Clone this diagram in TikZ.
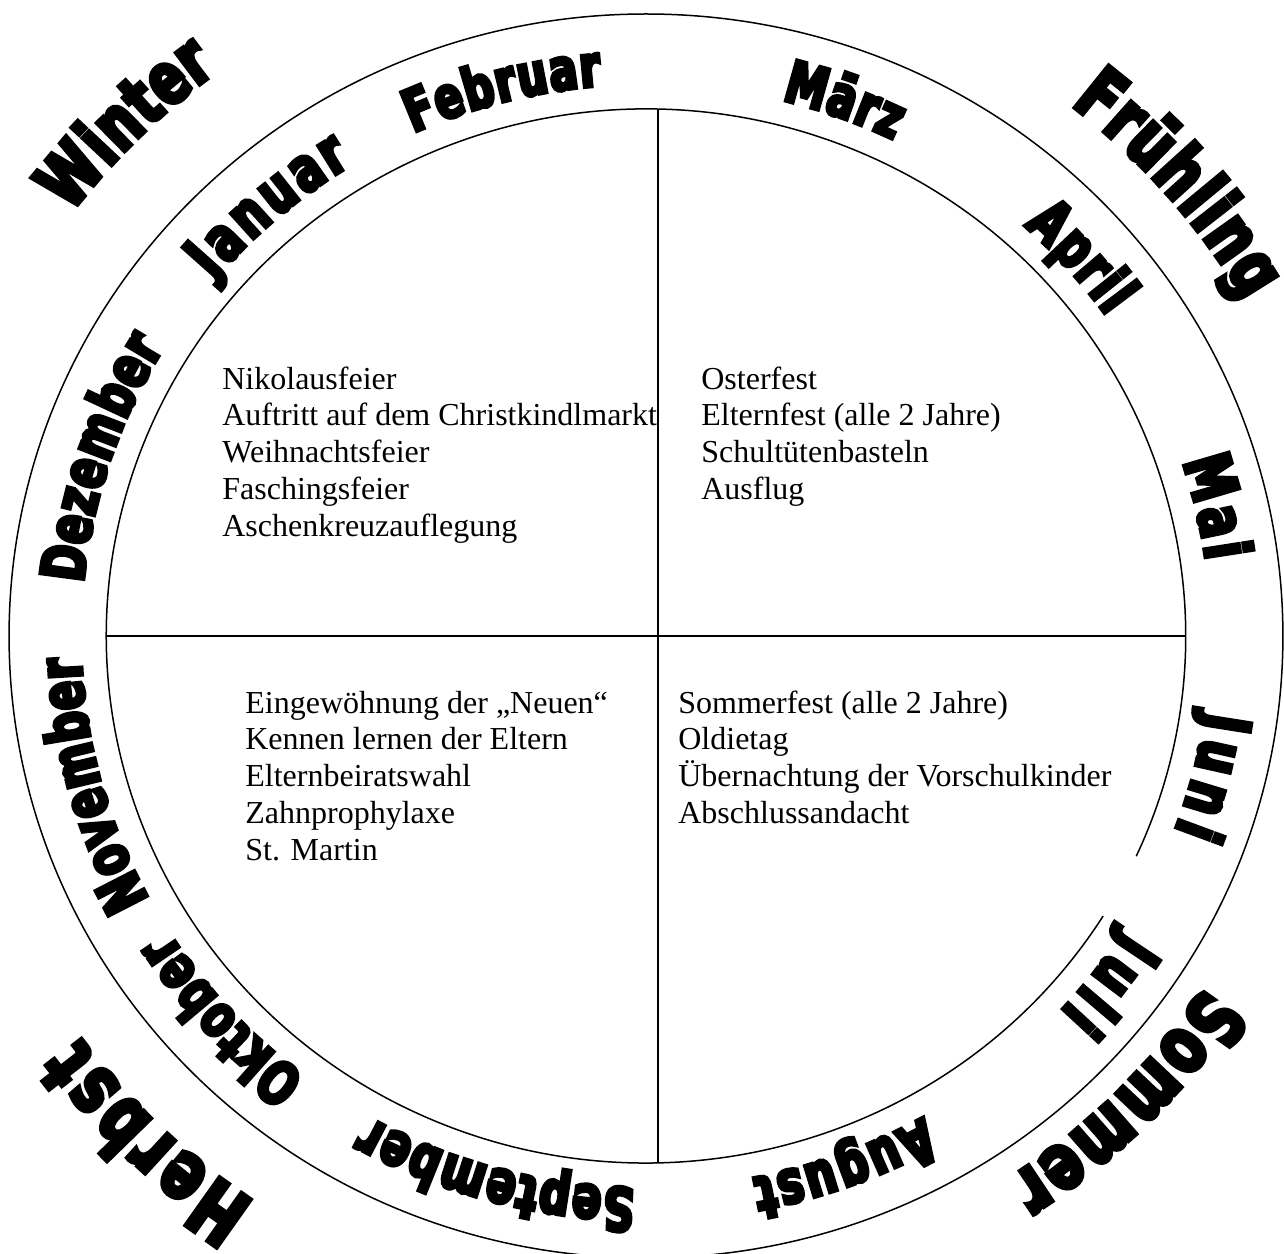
\documentclass[tikz,border=0pt]{standalone}
\usepackage{fontspec}
\setmainfont{Liberation Serif}
\newfontfamily\heavy{DejaVu Sans}[FakeBold=6, FakeStretch=0.72]
\usetikzlibrary{decorations.text}
\tikzset{
  ring/.style={line width=0.75pt},
  divider/.style={line width=0.7pt},
  evt/.style={anchor=base west, inner sep=0pt, font=\fontsize{16pt}{18.4pt}\selectfont},
}
% #1 start angle, #2 end angle, #3 baseline radius, #4 font size, #5 text
\newcommand\ringlabel[5]{%
  \path[decorate, decoration={text along path, text align=fit to path,
     text={|\heavy\bfseries\fontsize{#4}{#4}\selectfont|#5}}]
     (#1:#3) arc[start angle=#1, end angle=#2, radius=#3];}
\begin{document}
\begin{tikzpicture}[x=0.512pt,y=0.5pt]
\useasboundingbox (-630.86,-617) rectangle (623.05,636);
\fill[white] (-630.86,-617) rectangle (623.05,636);
% circles
\draw[ring] (0,0) circle[x radius=622, y radius=622];
\draw[ring] (-24.7:527) arc[start angle=-24.7, end angle=327.9, radius=527];
% dividers
\coordinate (hL) at (-527,0);
\coordinate (hR) at (527,0);
\coordinate (vT) at (11.7,526.9);
\coordinate (vB) at (11.7,-526.9);
\draw[divider] (hL) -- (hR);
\draw[divider] (vT) -- (vB);
% months
\ringlabel{139.9}{121.4}{552}{31pt}{Januar}
\ringlabel{114.3}{94.5}{552}{29pt}{Februar}
\ringlabel{76.1}{64.0}{552}{29pt}{März}
\ringlabel{48.0}{35.4}{552}{30pt}{April}
\ringlabel{18.4}{7.8}{552}{32pt}{Mai}
\ringlabel{-7.9}{-20.7}{552}{32pt}{Juni}
\ringlabel{-32.3}{-42.9}{552}{32pt}{Juli}
\ringlabel{-60.6}{-79.2}{552}{30pt}{August}
\ringlabel{-91.1}{-119.3}{552}{30pt}{September}
\ringlabel{-127.0}{-147.5}{552}{29.5pt}{Oktober}
\ringlabel{-151.5}{-177.8}{552}{30pt}{November}
\ringlabel{174.5}{148.5}{552}{30pt}{Dezember}
% seasons
\ringlabel{143.0}{126.6}{703}{36pt}{Winter}
\ringlabel{52.0}{29.8}{674}{37pt}{Frühling}
\ringlabel{-32.8}{-56.8}{648}{39pt}{Sommer}
\ringlabel{-124.0}{-144.0}{683}{40pt}{Herbst}
% events
\foreach \t [count=\i] in {Nikolausfeier, Auftritt auf dem Christkindlmarkt, Weihnachtsfeier, Faschingsfeier, Aschenkreuzauflegung}
  \node[evt] (tl\i) at (-414.06, 247-36.8*\i+36.8) {\t};
\foreach \t [count=\i] in {Osterfest, Elternfest (alle 2 Jahre), Schultütenbasteln, Ausflug}
  \node[evt] (tr\i) at (53.71, 247-36.8*\i+36.8) {\t};
\foreach \t [count=\i] in {Eingewöhnung der „Neuen“, Kennen lernen der Eltern, Elternbeiratswahl, Zahnprophylaxe, St. Martin}
  \node[evt] (bl\i) at (-391.6, -77-36.8*\i+36.8) {\t};
\foreach \t [count=\i] in {Sommerfest (alle 2 Jahre), Oldietag, Übernachtung der Vorschulkinder, Abschlussandacht}
  \node[evt] (br\i) at (31.25, -77-36.8*\i+36.8) {\t};
\end{tikzpicture}
\end{document}
